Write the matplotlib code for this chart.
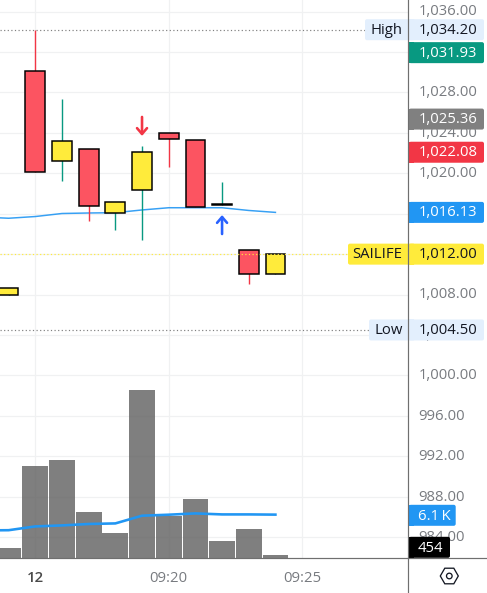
import matplotlib
matplotlib.use("Agg")
import matplotlib.pyplot as plt
from matplotlib.patches import FancyBboxPatch, Rectangle, RegularPolygon, Circle

plt.rcParams['font.family'] = ['Open Sans', 'DejaVu Sans']

# --- data -------------------------------------------------------------
minutes = [14, 15, 16, 17, 18, 19, 20, 21, 22, 23, 24]
opens   = [1007.93, 1030.09, 1021.18, 1022.37, 1016.04, 1018.31, 1023.95, 1023.26, 1016.90, 1012.38, 1010.00]
closes  = [1008.62, 1020.10, 1023.16, 1016.73, 1017.13, 1022.07, 1023.36, 1016.63, 1017.00, 1010.00, 1012.00]
highs   = [1008.62, 1034.20, 1027.35, 1022.37, 1017.13, 1022.70, 1023.95, 1023.26, 1019.14, 1012.38, 1012.00]
lows    = [1007.93, 1020.10, 1019.23, 1015.31, 1014.39, 1013.40, 1020.65, 1016.63, 1016.90, 1009.05, 1010.00]
volumes = [1470, 12950, 13790, 6510, 3570, 23590, 5850, 8330, 2450, 4130, 454]

ma_minutes = [13, 14, 15, 16, 17, 18, 19, 20, 21, 22, 23, 24]
price_ma   = [1015.67, 1015.55, 1015.72, 1016.02, 1016.07, 1016.10, 1016.37, 1016.59, 1016.59, 1016.59, 1016.32, 1016.13]
volume_ma  = [3890, 3920, 4450, 4590, 4790, 4870, 5950, 6090, 6270, 6130, 6130, 6100]

price_ticks = [984, 988, 992, 996, 1000, 1004, 1008, 1012, 1016, 1020, 1024, 1028, 1032, 1036]
covered_ticks = [1012, 1016, 1032]  # wholly behind a value badge in the picture
time_ticks  = [15, 20, 25]
time_labels = ['12', '09:20', '09:25']

HIGH, LOW, LAST = 1034.20, 1004.50, 1012.00
badges = [  # price-position, text, background, foreground
    (1034.20, '1,034.20', '#E3EFFD', '#131722'),
    (1031.93, '1,031.93', '#089981', '#FFFFFF'),
    (1025.36, '1,025.36', '#808080', '#FFFFFF'),
    (1022.08, '1,022.08', '#F23645', '#FFFFFF'),
    (1016.13, '1,016.13', '#2196F3', '#FFFFFF'),
    (1012.00, '1,012.00', '#FFEB3B', '#131722'),
    (1004.50, '1,004.50', '#E3EFFD', '#131722'),
]

# --- layout -----------------------------------------------------------
W, H = 487, 593
AX_R, AX_B = 408.3, 558.2
PX_PER_UNIT, Y_1036 = 10.11, 11.5
PX_PER_MIN, X_0920 = 26.68, 168.7
px = 1 / 100 * 72  # points per pixel
FS = 10.7

fig = plt.figure(figsize=(W / 100, H / 100), dpi=100, facecolor='white')
rect = [0, 1 - AX_B / H, AX_R / W, AX_B / H]
ax = fig.add_axes(rect, zorder=1)
vax = fig.add_axes(rect, zorder=2)
vax.patch.set_alpha(0)
top = fig.add_axes([0, 0, 1, 1], zorder=3)
top.patch.set_alpha(0)
top.set_xlim(0, W)
top.set_ylim(H, 0)
top.axis('off')

ax.set_xlim(20 - X_0920 / PX_PER_MIN, 20 + (AX_R - X_0920) / PX_PER_MIN)
ax.set_ylim(1036 - (AX_B - Y_1036) / PX_PER_UNIT, 1036 + Y_1036 / PX_PER_UNIT)
vax.set_xlim(ax.get_xlim())
vax.set_ylim(0, AX_B * 140)
vax.axis('off')

for s in ax.spines.values():
    s.set_visible(False)
ax.set_yticks(price_ticks)
ax.set_yticklabels([])
ax.set_xticks(time_ticks)
ax.set_xticklabels(time_labels)
ax.tick_params(axis='y', length=0)
ax.tick_params(axis='x', length=0, pad=9, labelsize=FS, labelcolor='#787B80')
ax.get_xticklabels()[0].set_color('#4A4A4A')
ax.get_xticklabels()[0].set_fontweight('semibold')
ax.grid(True, color='#F0F1F2', lw=1.2 * px, zorder=0)
ax.set_axisbelow(True)

RED_BODY, YELLOW_BODY = '#FC5461', '#FFEB3B'
RED_WICK, GREEN_WICK = '#F23645', '#089981'

# volume pane
vax.bar(minutes, volumes, width=0.965, color='#5F5F5F', alpha=0.8, lw=0, zorder=2)
vax.plot(ma_minutes, volume_ma, color='#2196F3', lw=2.6 * px, zorder=3, solid_joinstyle='round')

# price lines
ax.plot(ma_minutes, price_ma, color='#2196F3', lw=1.5 * px, alpha=0.9, zorder=2)
ax.plot([ax.get_xlim()[0], 20 + (365 - X_0920) / PX_PER_MIN], [HIGH, HIGH], color='#808080', lw=1.2 * px, ls=(0, (1, 2)), zorder=1.5)
ax.plot([ax.get_xlim()[0], 20 + (369 - X_0920) / PX_PER_MIN], [LOW, LOW], color='#808080', lw=1.2 * px, ls=(0, (1, 2)), zorder=1.5)

# candles
for m, o, c, h, l in zip(minutes, opens, closes, highs, lows):
    up = c >= o
    ax.plot([m, m], [l, h], color=GREEN_WICK if up else RED_WICK, lw=1.4 * px, zorder=3, solid_capstyle='butt')
    ax.bar(m, abs(c - o), bottom=min(o, c), width=0.74, color=YELLOW_BODY if up else RED_BODY,
           edgecolor='black', lw=1.5 * px, zorder=4)

ax.plot([ax.get_xlim()[0], 20 + (348 - X_0920) / PX_PER_MIN], [LAST, LAST], color='#FFEB3B', lw=1.2 * px,
        ls=(0, (1, 2)), zorder=5)

# signal arrows
ax.annotate('', xy=(19, 1023.69), xytext=(19, 1025.57), zorder=5,
            arrowprops=dict(arrowstyle='->,head_length=0.35,head_width=0.3', color='#F23645', lw=2.6 * px,
                            shrinkA=0, shrinkB=0, mutation_scale=12))
ax.annotate('', xy=(22, 1015.87), xytext=(22, 1013.99), zorder=5,
            arrowprops=dict(arrowstyle='->,head_length=0.35,head_width=0.3', color='#2962FF', lw=2.6 * px,
                            shrinkA=0, shrinkB=0, mutation_scale=12))


def py(price):
    return Y_1036 + (1036 - price) * PX_PER_UNIT


def round_box(x0, x1, y, bg, h=21):
    top.add_patch(FancyBboxPatch((x0 + 2, y - h / 2 + 2), x1 - x0 - 4, h - 4,
                                 boxstyle='round,pad=2,rounding_size=2', fc=bg, ec='none', zorder=3))


def badge(y, text, bg, fg, x1=484, tx=418.5, base=4.0):
    round_box(409, x1, y, bg)
    top.add_patch(Rectangle((409, y - 10.5), 5, 21, fc=bg, ec='none', zorder=3))
    top.text(tx, y + base, text, color=fg, fontsize=FS, va='baseline', ha='left', zorder=4)


def tag(y, x0, text, bg, fg, tx):
    round_box(x0, 415, y, bg)
    top.text(tx, y + 4.0, text, color=fg, fontsize=FS, va='baseline', ha='left', zorder=4)


# price scale labels, beneath the badges
for v in price_ticks:
    if v not in covered_ticks:
        top.text(418.3, py(v) + 3.9, f'{v:,.2f}', color='#787B80', fontsize=FS, va='baseline', ha='left', zorder=1)

tag(py(HIGH), 365, 'High', '#E3EFFD', '#131722', 370)
tag(py(LOW), 369, 'Low', '#E3EFFD', '#131722', 374)
tag(py(LAST), 348, 'SAILIFE', '#FFEB3B', '#131722', 352.3)
for p, t, bg, fg in badges:
    badge(py(p), t, bg, fg)
badge(515.3, '6.1\u2009K', '#2196F3', '#FFFFFF', x1=455.7, tx=417.7, base=5.0)
badge(547.3, '454', '#000000', '#FFFFFF', x1=450, tx=417.7, base=5.0)

# frame lines
top.plot([AX_R, AX_R], [0, H], color='#6F6F6F', lw=1.2 * px, zorder=6)
top.plot([0, W], [AX_B, AX_B], color='#6F6F6F', lw=1.2 * px, zorder=6)

# settings icon
top.add_patch(RegularPolygon((449.3, 576), 6, radius=9, orientation=0.5236, fc='none', ec='#131722', lw=1.3 * px, zorder=6))
top.add_patch(Circle((449.3, 576), 2.8, fc='none', ec='#131722', lw=1.3 * px, zorder=6))

fig.savefig('out.png', dpi=100)
